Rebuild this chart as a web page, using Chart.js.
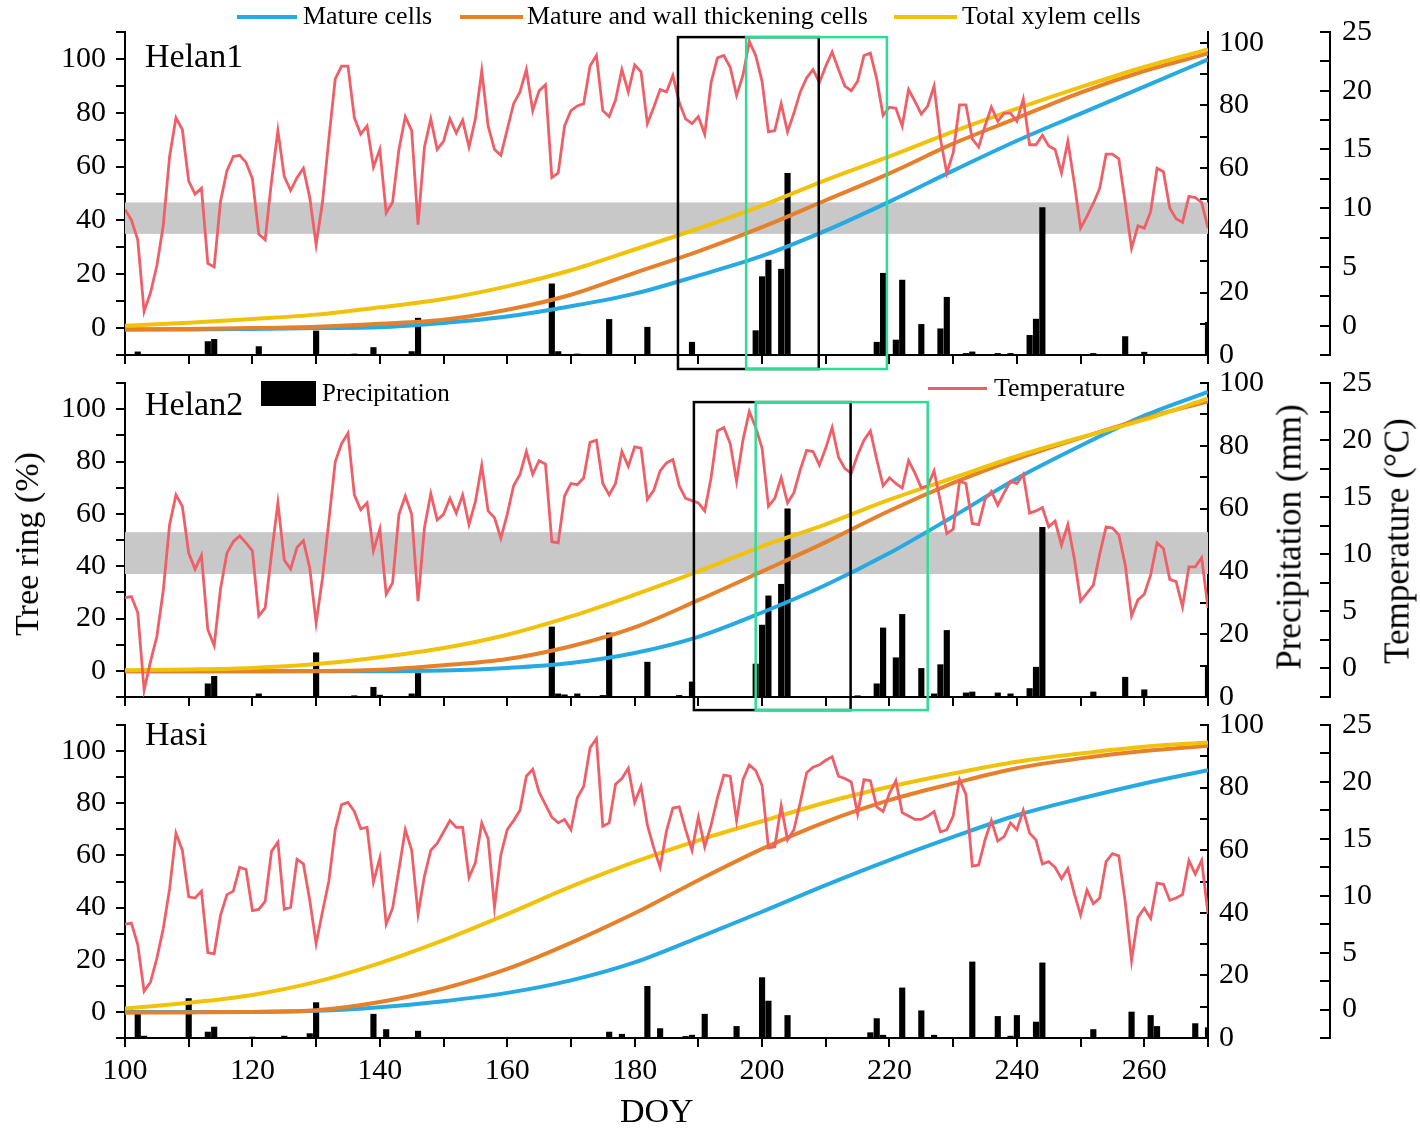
<!DOCTYPE html>
<html>
<head>
<meta charset="utf-8">
<title>Xylem cell formation, temperature and precipitation</title>
<script src="https://cdn.jsdelivr.net/npm/chart.js@4.4.1/dist/chart.umd.min.js"></script>
<style>
  body { margin: 0; background: #fff; }
  #fig { position: relative; width: 1420px; height: 1135px; overflow: hidden;
         font-family: "Liberation Serif", "Times New Roman", serif; color: #000; }
  #fig canvas { position: absolute; left: 0; }
  .t { position: absolute; white-space: nowrap; line-height: 1; }
  .rot { position: absolute; white-space: nowrap; line-height: 1; transform: translate(-50%, -50%) rotate(-90deg); }
  .key { position: absolute; }
</style>
</head>
<body>
<div id="fig">
  <canvas id="p1" width="1420" height="375" style="top:0"></canvas>
  <canvas id="p2" width="1420" height="355" style="top:360px"></canvas>
  <canvas id="p3" width="1420" height="430" style="top:705px"></canvas>

  <!-- top legend -->
  <div class="key" style="left:237px;top:15px;width:60px;height:4px;background:#27aae1"></div>
  <div class="t" style="left:303px;top:3px;font-size:26px">Mature cells</div>
  <div class="key" style="left:460px;top:15px;width:63px;height:4px;background:#e6812b"></div>
  <div class="t" style="left:527px;top:3px;font-size:26px">Mature and wall thickening cells</div>
  <div class="key" style="left:894px;top:15px;width:63px;height:4px;background:#f0c20a"></div>
  <div class="t" style="left:962px;top:3px;font-size:26px">Total xylem cells</div>

  <!-- legend inside Helan2 -->
  <div class="key" style="left:261px;top:381px;width:55px;height:25px;background:#000"></div>
  <div class="t" style="left:322px;top:380px;font-size:25px">Precipitation</div>
  <div class="key" style="left:928px;top:387px;width:59px;height:3px;background:#ef5f68"></div>
  <div class="t" style="left:994px;top:375px;font-size:26px">Temperature</div>

  <!-- panel names -->
  <div class="t" style="left:145px;top:39px;font-size:34px">Helan1</div>
  <div class="t" style="left:145px;top:387px;font-size:34px">Helan2</div>
  <div class="t" style="left:145px;top:717px;font-size:34px">Hasi</div>

  <!-- axis titles -->
  <div class="rot" style="left:27px;top:544px;font-size:34px">Tree ring (%)</div>
  <div class="rot" style="left:1289px;top:537px;font-size:35px">Precipitation (mm)</div>
  <div class="rot" style="left:1397px;top:541px;font-size:35px">Temperature (°C)</div>
  <div class="t" style="left:620px;top:1094px;font-size:34px">DOY</div>
</div>

<script>
// day of year for the daily temperature series (100..270)
const days = [];
for (let d = 100; d <= 270; d++) days.push(d);

// day of year of the points
const curveDays = [100, 110, 120, 130, 140, 150, 160, 170, 180, 190, 200, 210, 220, 230, 240, 250, 260, 270];

// precipitation axis ticks (labelled every 20)
const rainTicks = [0, 10, 20, 30, 40, 50, 60, 70, 80, 90, 100];

// ---- Helan1 ----
const helan1Temp = [
  9.9, 9.0, 7.3, 1.2, 2.8, 5.1, 8.5, 14.4, 17.7, 16.7,
  12.3, 11.2, 11.7, 5.3, 5.0, 10.6, 13.2, 14.4, 14.5, 13.9,
  12.5, 7.8, 7.3, 12.3, 16.6, 12.7, 11.5, 12.6, 13.4, 10.9,
  6.9, 10.5, 15.9, 21.0, 22.1, 22.1, 17.7, 16.3, 17.0, 13.5,
  15.0, 9.6, 10.5, 15.0, 17.8, 16.6, 8.6, 15.2, 17.6, 15.0,
  15.7, 17.6, 16.4, 17.5, 15.2, 17.6, 21.7, 17.0, 15.0, 14.5,
  16.7, 18.9, 19.9, 21.8, 18.3, 20.0, 20.5, 12.6, 13.0, 17.0,
  18.3, 18.7, 18.9, 22.1, 23.0, 18.3, 17.8, 19.2, 21.8, 19.9,
  22.2, 21.6, 17.2, 18.6, 20.1, 19.9, 21.3, 19.0, 17.6, 17.2,
  17.8, 16.3, 20.7, 22.8, 23.0, 22.0, 19.6, 21.3, 24.2, 23.0,
  20.8, 16.5, 16.6, 18.9, 16.5, 18.1, 19.9, 21.1, 21.8, 20.7,
  22.1, 23.3, 21.8, 20.4, 20.0, 20.8, 23.0, 23.2, 21.0, 17.9,
  18.6, 18.5, 17.0, 20.1, 19.1, 18.0, 18.7, 20.4, 15.9, 13.0,
  14.7, 18.8, 18.8, 15.9, 15.2, 17.0, 18.6, 17.4, 18.1, 18.1,
  17.4, 19.3, 15.4, 15.4, 16.2, 15.3, 15.0, 13.0, 15.7, 12.2,
  8.3, 9.3, 10.4, 11.7, 14.6, 14.6, 14.2, 10.5, 6.6, 8.5,
  8.3, 9.7, 13.4, 13.1, 10.0, 9.1, 8.8, 11.0, 10.9, 10.5,
  8.3
];
const helan1Mature = [-0.5, -0.5, -0.3, 0, 0.3, 1.9, 4.3, 8.1, 12.8, 19.5, 26.8, 36.2, 47, 58.5, 69.6, 79.7, 89.7, 99.8];
const helan1Wall = [-0.5, -0.3, 0, 0.5, 1.6, 3.1, 6.8, 12.4, 20.5, 28.5, 37.5, 47.5, 57.5, 68.5, 78, 87.5, 95.5, 102];
const helan1Total = [0.9, 2, 3.4, 5, 7.7, 10.8, 15.5, 21.5, 29.2, 37, 45.5, 55, 63.8, 73, 81.5, 89.5, 97, 103.5];
const helan1RainDays = [102, 113, 114, 121, 130, 136, 139, 145, 146, 167, 168, 171, 176, 182, 189, 199, 200, 201, 203, 204,
  218, 219, 221, 222, 225, 228, 229, 232, 233, 237, 239, 242, 243, 244, 252, 257, 260, 270];
const helan1Rain = [1.0, 4.3, 5.0, 2.7, 7.7, 0.3, 2.4, 1.1, 11.8, 22.8, 1.1, 0.3, 11.4, 8.9, 4.1, 7.8, 25.1, 30.4, 27.5, 58.2,
  4.1, 26.2, 4.8, 24.0, 9.8, 8.4, 18.5, 0.5, 1.0, 0.5, 0.5, 6.3, 11.5, 47.2, 0.5, 5.9, 0.9, 10.5];
const helan1Band = [35, 46.7];          // tree ring % range shaded grey
const helan1BlackWindow = [186.8, 208.9]; // DOY
const helan1GreenWindow = [197.5, 219.6];
const helan1WindowSpan = [-15.2, 108.1];  // tree ring % extent of the frames

// ---- Helan2 ----
const helan2Temp = [
  6.2, 6.3, 4.9, -1.9, 0.6, 2.8, 6.8, 12.6, 15.2, 14.2,
  10.1, 8.7, 9.9, 3.4, 2.0, 7.0, 10.1, 11.1, 11.6, 11.0,
  10.3, 4.6, 5.3, 10.0, 14.5, 9.5, 8.7, 10.6, 11.2, 8.8,
  4.0, 7.9, 12.9, 18.1, 19.7, 20.6, 15.2, 13.9, 14.5, 10.3,
  12.2, 6.5, 7.5, 13.5, 15.1, 13.5, 5.9, 12.3, 15.3, 13.0,
  13.5, 14.9, 13.6, 15.2, 12.6, 14.6, 17.8, 13.8, 13.2, 11.4,
  13.5, 16.0, 17.0, 19.0, 17.0, 18.2, 17.9, 11.1, 11.0, 15.1,
  16.2, 16.1, 16.7, 19.8, 20.0, 16.2, 15.2, 16.2, 19.0, 17.7,
  19.4, 19.3, 14.8, 15.6, 17.3, 18.0, 18.3, 16.0, 14.9, 14.7,
  14.5, 13.8, 16.7, 20.8, 21.1, 19.7, 16.4, 20.0, 22.5, 21.1,
  19.3, 14.2, 14.9, 16.7, 14.5, 15.4, 17.4, 19.1, 19.0, 17.8,
  19.3, 21.1, 18.5, 17.5, 17.1, 18.7, 20.0, 20.8, 18.3, 16.0,
  16.7, 16.2, 15.8, 18.2, 17.1, 15.8, 16.0, 17.3, 14.6, 11.8,
  12.2, 16.4, 16.2, 12.7, 12.6, 14.8, 15.5, 14.3, 15.4, 16.4,
  16.2, 17.0, 13.6, 13.8, 14.1, 12.4, 12.9, 10.8, 12.6, 9.7,
  5.9, 6.6, 7.3, 10.0, 12.4, 12.3, 11.7, 9.1, 4.6, 6.0,
  6.5, 8.2, 11.0, 10.5, 7.8, 7.6, 5.4, 8.9, 8.9, 9.7,
  5.3
];
const helan2Mature = [-0.2, -0.2, -0.2, -0.2, -0.2, 0.1, 1.1, 3.0, 6.8, 13, 22.3, 32.8, 45, 59, 73.5, 86, 97.5, 106.6];
const helan2Wall = [-0.2, -0.2, -0.2, -0.1, 0.4, 2.1, 4.5, 9.4, 16.6, 27, 38, 49.2, 61.2, 71.8, 81, 89, 96.5, 103];
const helan2Total = [0.2, 0.5, 1.1, 2.6, 5.2, 8.7, 13.8, 20.8, 29.1, 38, 47.6, 56, 65.4, 73.7, 82, 89.2, 96, 104];
const helan2RainDays = [113, 114, 121, 130, 136, 139, 140, 145, 146, 167, 168, 169, 171, 175, 176, 182, 187, 189, 199, 200,
  201, 203, 204, 215, 218, 219, 221, 222, 225, 227, 228, 229, 232, 233, 237, 239, 242, 243, 244, 252, 257, 260, 270];
const helan2Rain = [4.2, 6.6, 1.0, 14.1, 0.4, 3.1, 0.6, 1.0, 7.5, 22.3, 1.0, 0.7, 1.0, 0.5, 20.4, 11.1, 0.5, 4.8, 10.5, 22.9,
  32.2, 35.9, 59.9, 0.4, 4.2, 22.0, 12.5, 26.3, 9.1, 1.0, 10.3, 21.2, 1.3, 1.6, 1.3, 1.0, 2.7, 9.5, 54.0, 1.6, 6.3, 2.3, 10.1];
const helan2Band = [37, 53];
const helan2BlackWindow = [189.3, 213.9];
const helan2GreenWindow = [199.0, 226.0];
const helan2WindowSpan = [-15.0, 102.7];

// ---- Hasi ----
const hasiTemp = [
  7.5, 7.6, 5.7, 1.6, 2.4, 4.5, 7.1, 10.6, 15.5, 14.0,
  9.9, 9.8, 10.4, 5.0, 4.9, 8.3, 10.1, 10.4, 12.5, 12.3,
  8.7, 8.8, 9.5, 13.9, 14.7, 8.8, 9.0, 13.2, 12.8, 9.6,
  5.8, 8.6, 11.3, 15.8, 18.0, 18.2, 17.4, 15.9, 16.0, 11.2,
  13.3, 7.5, 8.9, 12.3, 15.8, 14.0, 8.4, 11.7, 14.0, 14.6,
  15.6, 16.6, 16.0, 16.0, 11.6, 12.9, 16.4, 15.0, 9.0, 13.6,
  15.8, 16.6, 17.5, 20.5, 21.1, 19.1, 18.0, 16.9, 16.4, 16.7,
  15.8, 18.6, 19.6, 23.0, 23.8, 16.1, 16.4, 19.8, 20.3, 21.2,
  18.2, 19.6, 16.2, 14.2, 12.5, 15.7, 17.7, 17.8, 15.8, 14.0,
  16.9, 14.3, 16.2, 18.6, 20.6, 20.5, 16.6, 20.2, 21.5, 21.0,
  19.7, 14.2, 14.3, 17.9, 14.9, 15.8, 18.2, 20.8, 21.3, 21.5,
  21.9, 22.2, 20.5, 20.3, 20.0, 17.2, 20.2, 20.1, 17.8, 17.4,
  19.0, 20.1, 17.3, 17.0, 16.7, 16.7, 17.0, 17.4, 15.6, 15.8,
  17.0, 20.2, 18.9, 12.6, 12.7, 14.9, 16.6, 14.8, 15.2, 16.4,
  15.8, 17.5, 15.5, 14.9, 12.8, 13.0, 12.5, 11.5, 12.4, 10.2,
  8.3, 10.5, 9.3, 9.8, 13.0, 13.7, 13.5, 9.5, 4.3, 8.1,
  8.9, 8.0, 11.1, 11.0, 9.6, 9.8, 10.1, 13.1, 11.9, 13.1,
  8.4
];
const hasiMature = [0, 0, 0, 0.4, 1.8, 4.1, 7.3, 12.1, 19, 28.5, 38.4, 48.6, 58.2, 67.1, 75.4, 81.8, 87.6, 92.7];
const hasiWall = [-0.3, -0.2, 0, 0.6, 3.8, 9, 16.5, 26.5, 37.8, 50.5, 62.5, 72.9, 81.2, 87.6, 93.4, 97.2, 100, 102];
const hasiTotal = [1.3, 3.5, 6.5, 11.5, 18.7, 27.5, 37.5, 48, 57.5, 65.8, 73.1, 80.3, 86.3, 91.4, 95.9, 99.1, 101.7, 103.3];
const hasiRainDays = [102, 103, 110, 113, 114, 120, 125, 129, 130, 139, 141, 146, 176, 178, 182, 184, 188, 189, 191, 196,
  200, 201, 204, 217, 218, 219, 222, 225, 227, 233, 237, 239, 240, 243, 244, 252, 258, 261, 262, 268, 270];
const hasiRain = [8.0, 0.6, 12.6, 1.9, 3.5, 0.3, 0.6, 1.4, 11.3, 7.6, 2.7, 2.2, 1.9, 1.2, 16.5, 3.0, 0.5, 0.9, 7.6, 3.7,
  19.3, 11.8, 7.2, 1.7, 6.2, 0.9, 16.0, 8.7, 0.9, 24.3, 6.9, 0.6, 7.2, 5.1, 24.0, 2.7, 8.3, 7.2, 3.7, 4.6, 3.3];

const BLUE = '#27aae1', ORANGE = '#e6812b', YELLOW = '#f0c20a', RED = '#ef5f68', GREEN = '#2fdc95';
const SERIF = '"Liberation Serif", "Times New Roman", serif';
Chart.defaults.font.family = SERIF;
Chart.defaults.color = '#000';

function pairs(xs, ys) {
  return xs.map((x, i) => ({ x: x, y: ys[i] }));
}

// grey band behind the data and the framed time windows on top
const decor = {
  id: 'decor',
  beforeDatasetsDraw(chart, args, opts) {
    if (!opts.band) return;
    const { ctx, chartArea, scales } = chart;
    const top = scales.y.getPixelForValue(opts.band[1]);
    const bot = scales.y.getPixelForValue(opts.band[0]);
    ctx.save();
    ctx.fillStyle = '#c8c8c8';
    ctx.fillRect(chartArea.left, top, chartArea.right - chartArea.left, bot - top);
    ctx.restore();
  },
  afterDatasetsDraw(chart, args, opts) {
    if (!opts.windows) return;
    const { ctx, scales } = chart;
    opts.windows.forEach(w => {
      const x0 = scales.x.getPixelForValue(w.range[0]);
      const x1 = scales.x.getPixelForValue(w.range[1]);
      const y0 = scales.y.getPixelForValue(opts.span[1]);
      const y1 = scales.y.getPixelForValue(opts.span[0]);
      ctx.save();
      ctx.strokeStyle = w.color;
      ctx.lineWidth = w.width;
      ctx.strokeRect(x0, y0, x1 - x0, y1 - y0);
      ctx.restore();
    });
  }
};

function tickGrid(len) {
  return { drawOnChartArea: false, drawTicks: true, tickLength: len, color: '#000', lineWidth: 2, offset: false };
}
const axisBorder = { display: true, color: '#000', width: 2 };
const tickFont = { family: SERIF, size: 30 };

// fixed box size, and no extra room for half tick labels
function fixSize(s, w, h) {
  if (w !== null) s.width = w;
  if (h !== null) s.height = h;
  s.paddingTop = 0; s.paddingBottom = 0; s.paddingLeft = 0; s.paddingRight = 0;
}

function makePanel(p) {
  const canvas = document.getElementById(p.id);
  const H = canvas.height;
  new Chart(canvas, {
    type: 'bar',
    data: {
      datasets: [
        { type: 'line', label: 'Temperature', yAxisID: 'yT', data: pairs(days, p.temp),
          borderColor: RED, borderWidth: 2.8, pointRadius: 0, tension: 0, order: 0 },
        { type: 'line', label: 'Total xylem cells', yAxisID: 'y', data: pairs(curveDays, p.total),
          borderColor: YELLOW, borderWidth: 4, pointRadius: 0, cubicInterpolationMode: 'monotone', order: 1 },
        { type: 'line', label: 'Mature and wall thickening cells', yAxisID: 'y', data: pairs(curveDays, p.wall),
          borderColor: ORANGE, borderWidth: 4, pointRadius: 0, cubicInterpolationMode: 'monotone', order: 2 },
        { type: 'line', label: 'Mature cells', yAxisID: 'y', data: pairs(curveDays, p.mature),
          borderColor: BLUE, borderWidth: 4, pointRadius: 0, cubicInterpolationMode: 'monotone', order: 3 },
        { type: 'bar', label: 'Precipitation', yAxisID: 'yP', data: pairs(p.rainDays, p.rain),
          backgroundColor: '#000', barThickness: 5.5, order: 4 }
      ]
    },
    options: {
      responsive: false,
      animation: false,
      events: [],
      layout: { padding: { top: p.top, left: 0, right: 0, bottom: 0 } },
      scales: {
        x: {
          type: 'linear', position: 'bottom', min: 100, max: 270, offset: false,
          ticks: { stepSize: 10, maxTicksLimit: 1000, autoSkip: false, maxRotation: 0, font: tickFont, color: '#000', padding: 6,
                   callback: v => (p.xLabels && v % 20 === 0 && v < 270) ? String(v) : '' },
          grid: tickGrid(9),
          border: axisBorder,
          afterFit: s => fixSize(s, null, H - p.bottom)
        },
        y: {
          type: 'linear', position: 'left', min: -10, max: 110,
          ticks: { stepSize: 10, maxTicksLimit: 1000, autoSkip: false, font: tickFont, color: '#000', padding: 10,
                   callback: v => (v >= 0 && v <= 100 && v % 20 === 0) ? String(v) : '' },
          grid: tickGrid(9),
          border: axisBorder,
          afterFit: s => fixSize(s, 125, null)
        },
        yP: {
          type: 'linear', position: 'right', weight: 0, min: 0, max: p.rainMax,
          ticks: { maxTicksLimit: 1000, autoSkip: false, font: tickFont, color: '#000', padding: 19,
                   callback: v => (v % 20 === 0) ? String(v) : '' },
          afterBuildTicks: s => { s.ticks = rainTicks.map(v => ({ value: v })); },
          grid: tickGrid(-8),
          border: axisBorder,
          afterFit: s => fixSize(s, 122, null)
        },
        yT: {
          type: 'linear', position: 'right', weight: 1, min: -2.5, max: 25,
          ticks: { stepSize: 2.5, maxTicksLimit: 1000, autoSkip: false, font: tickFont, color: '#000', padding: 22,
                   callback: v => (v >= 0 && Math.abs(v % 5) < 1e-6) ? String(v) : '' },
          grid: tickGrid(-10),
          border: axisBorder,
          afterFit: s => fixSize(s, 90, null)
        }
      },
      plugins: {
        legend: { display: false },
        tooltip: { enabled: false },
        decor: { band: p.band, span: p.span, windows: p.windows }
      }
    },
    plugins: [decor]
  });
}

makePanel({
  id: 'p1', top: 32, bottom: 355, rainMax: 103.5, xLabels: false,
  temp: helan1Temp, mature: helan1Mature, wall: helan1Wall, total: helan1Total,
  rainDays: helan1RainDays, rain: helan1Rain, band: helan1Band, span: helan1WindowSpan,
  windows: [{ range: helan1BlackWindow, color: '#000', width: 2.5 }, { range: helan1GreenWindow, color: GREEN, width: 2.5 }]
});
makePanel({
  id: 'p2', top: 23, bottom: 337, rainMax: 100, xLabels: false,
  temp: helan2Temp, mature: helan2Mature, wall: helan2Wall, total: helan2Total,
  rainDays: helan2RainDays, rain: helan2Rain, band: helan2Band, span: helan2WindowSpan,
  windows: [{ range: helan2BlackWindow, color: '#000', width: 2.5 }, { range: helan2GreenWindow, color: GREEN, width: 2.5 }]
});
makePanel({
  id: 'p3', top: 20, bottom: 333, rainMax: 100, xLabels: true,
  temp: hasiTemp, mature: hasiMature, wall: hasiWall, total: hasiTotal,
  rainDays: hasiRainDays, rain: hasiRain, band: null, span: null, windows: null
});
</script>
</body>
</html>
